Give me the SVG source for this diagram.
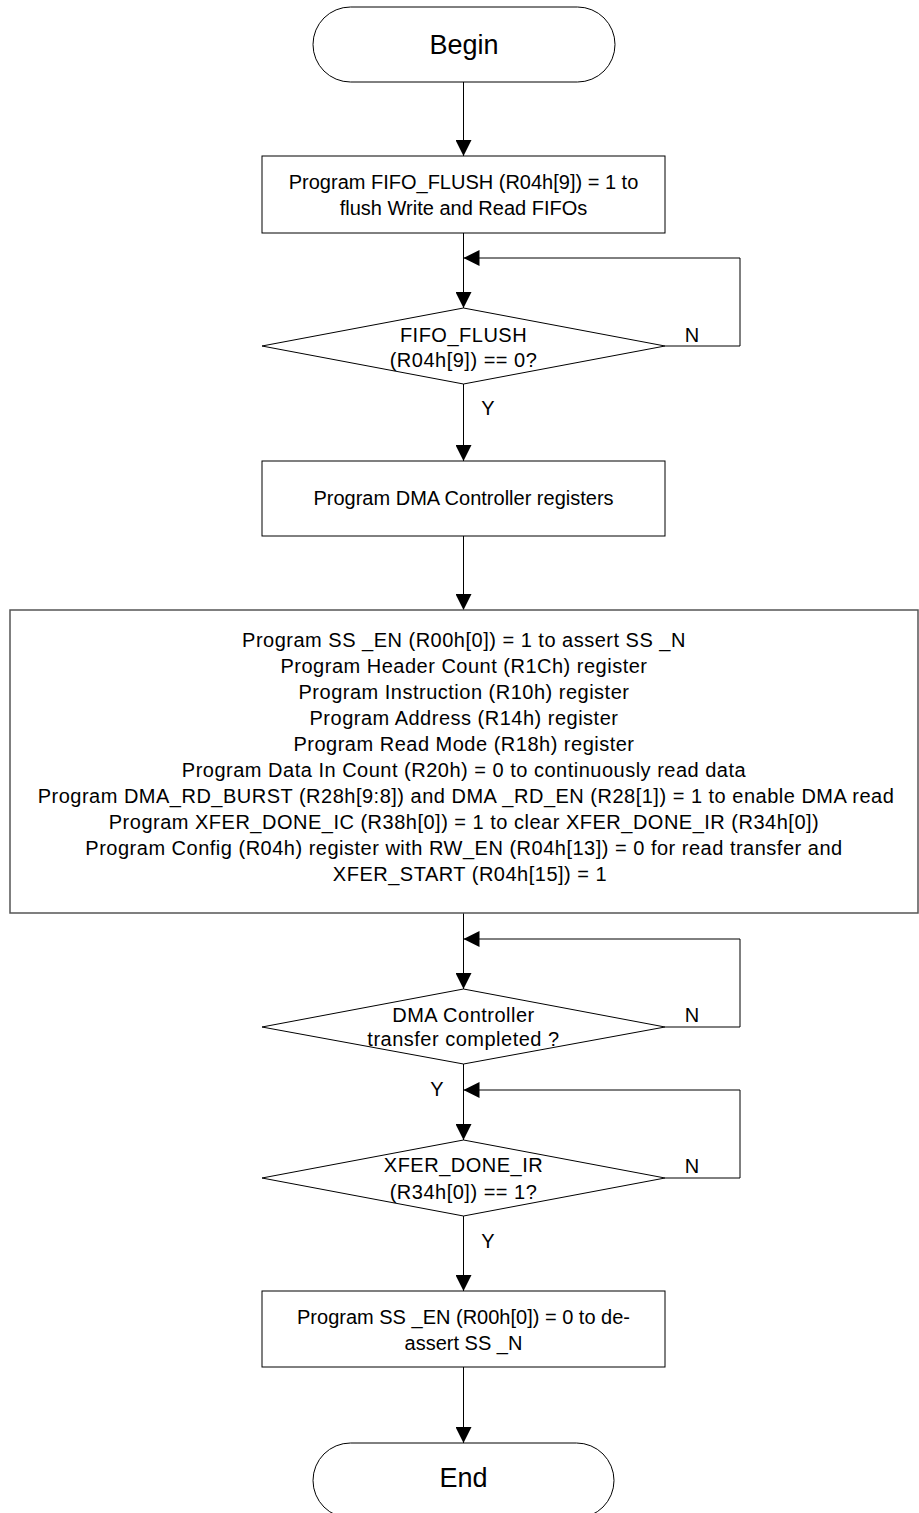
<svg xmlns="http://www.w3.org/2000/svg" width="919" height="1513" viewBox="0 0 919 1513">
<defs>
<style>
.shape{fill:#fff;stroke:#000;stroke-width:1}
.big{fill:#fff;stroke:#555;stroke-width:1.5}
.t{font-family:"Liberation Sans",Arial,sans-serif;font-size:20px;fill:#000;text-anchor:middle}
.ls{letter-spacing:0.5px}
.tt{font-family:"Liberation Sans",Arial,sans-serif;font-size:27px;fill:#000;text-anchor:middle}
.c{fill:none;stroke:#000;stroke-width:1}
</style>
<marker id="ah" viewBox="0 0 16 16" refX="16" refY="8" markerWidth="16" markerHeight="16" markerUnits="userSpaceOnUse" orient="auto">
<path d="M0,0 L16,8 L0,16 Z" fill="#000"/>
</marker>
</defs>
<rect width="919" height="1513" fill="#fff"/>
<g id="connectors">
<line class="c" x1="463.5" y1="82" x2="463.5" y2="156" marker-end="url(#ah)"/>
<line class="c" x1="463.5" y1="233" x2="463.5" y2="308" marker-end="url(#ah)"/>
<polyline class="c" points="665,346 740,346 740,258 463.5,258" marker-end="url(#ah)"/>
<line class="c" x1="463.5" y1="384" x2="463.5" y2="461" marker-end="url(#ah)"/>
<line class="c" x1="463.5" y1="536" x2="463.5" y2="610" marker-end="url(#ah)"/>
<line class="c" x1="463.5" y1="913" x2="463.5" y2="989" marker-end="url(#ah)"/>
<polyline class="c" points="665,1027 740,1027 740,939 463.5,939" marker-end="url(#ah)"/>
<line class="c" x1="463.5" y1="1064" x2="463.5" y2="1140" marker-end="url(#ah)"/>
<polyline class="c" points="665,1178 740,1178 740,1090 463.5,1090" marker-end="url(#ah)"/>
<line class="c" x1="463.5" y1="1216" x2="463.5" y2="1291" marker-end="url(#ah)"/>
<line class="c" x1="463.5" y1="1367" x2="463.5" y2="1443" marker-end="url(#ah)"/>
<text class="t" x="692" y="342">N</text>
<text class="t" x="488" y="415">Y</text>
<text class="t" x="692" y="1022">N</text>
<text class="t" x="437" y="1096">Y</text>
<text class="t" x="692" y="1173">N</text>
<text class="t" x="488" y="1248">Y</text>
</g>
<g id="begin">
<rect class="shape" x="313" y="7" width="302" height="75" rx="37.5" ry="37.5"/>
<text class="tt" x="464" y="54">Begin</text>
</g>
<g id="flush">
<rect class="shape" x="262" y="156" width="403" height="77"/>
<text class="t" x="463.5" y="189">Program FIFO_FLUSH (R04h[9]) = 1 to</text>
<text class="t" x="463.5" y="215">flush Write and Read FIFOs</text>
</g>
<g id="check-flush">
<polygon class="shape" points="463.5,308 665,346 463.5,384 262,346"/>
<text class="t ls" x="463.5" y="342">FIFO_FLUSH</text>
<text class="t ls" x="463.5" y="367">(R04h[9]) == 0?</text>
</g>
<g id="dma-regs">
<rect class="shape" x="262" y="461" width="403" height="75"/>
<text class="t" x="463.5" y="505">Program DMA Controller registers</text>
</g>
<g id="program-block">
<rect class="big" x="10" y="610" width="908" height="303"/>
<text class="t ls" x="464" y="647">Program SS _EN (R00h[0]) = 1 to assert SS _N</text>
<text class="t ls" x="464" y="673">Program Header Count (R1Ch) register</text>
<text class="t ls" x="464" y="699">Program Instruction (R10h) register</text>
<text class="t ls" x="464" y="725">Program Address (R14h) register</text>
<text class="t ls" x="464" y="751">Program Read Mode (R18h) register</text>
<text class="t ls" x="464" y="777">Program Data In Count (R20h) = 0 to continuously read data</text>
<text class="t ls" x="466" y="803">Program DMA_RD_BURST (R28h[9:8]) and DMA _RD_EN (R28[1]) = 1 to enable DMA read</text>
<text class="t ls" x="464" y="829">Program XFER_DONE_IC (R38h[0]) = 1 to clear XFER_DONE_IR (R34h[0])</text>
<text class="t ls" x="464" y="855">Program Config (R04h) register with RW_EN (R04h[13]) = 0 for read transfer and</text>
<text class="t ls" x="470" y="881">XFER_START (R04h[15]) = 1</text>
</g>
<g id="check-dma">
<polygon class="shape" points="463.5,989 665,1027 463.5,1064 262,1027"/>
<text class="t ls" x="463.5" y="1022">DMA Controller</text>
<text class="t ls" x="463.5" y="1046">transfer completed ?</text>
</g>
<g id="check-done">
<polygon class="shape" points="463.5,1140 665,1178 463.5,1216 262,1178"/>
<text class="t ls" x="463.5" y="1172">XFER_DONE_IR</text>
<text class="t ls" x="463.5" y="1199">(R34h[0]) == 1?</text>
</g>
<g id="deassert">
<rect class="shape" x="262" y="1291" width="403" height="76"/>
<text class="t" x="463.5" y="1324">Program SS _EN (R00h[0]) = 0 to de-</text>
<text class="t" x="463.5" y="1350">assert SS _N</text>
</g>
<g id="end">
<rect class="shape" x="313" y="1443" width="301" height="75" rx="37.5" ry="37.5"/>
<text class="tt" x="463.5" y="1487">End</text>
</g>
</svg>
